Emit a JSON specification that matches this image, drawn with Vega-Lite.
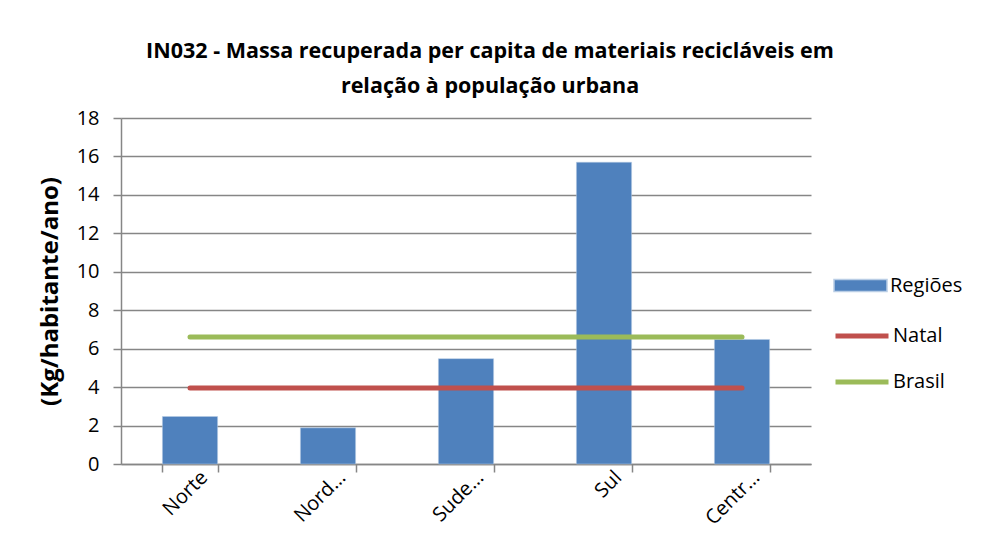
{
  "$schema": "https://vega.github.io/schema/vega-lite/v6.json",
  "width": 690,
  "height": 346,
  "autosize": {"type": "none"},
  "padding": {"left": 121, "top": 118, "right": 177, "bottom": 92},
  "background": "white",
  "config": {
    "font": "Open Sans",
    "view": {"stroke": null},
    "axis": {"labelColor": "black", "titleColor": "black"}
  },
  "title": {
    "text": ["IN032 - Massa recuperada per capita de materiais recicláveis em", "relação à população urbana"],
    "fontSize": 21.5,
    "fontWeight": "bold",
    "color": "black",
    "anchor": "middle",
    "dx": 24,
    "lineHeight": 35,
    "offset": 11
  },
  "datasets": {
    "bars": [
      {"regiao": "Norte", "valor": 2.47, "serie": "Regiões"},
      {"regiao": "Nordeste", "valor": 1.88, "serie": "Regiões"},
      {"regiao": "Sudeste", "valor": 5.48, "serie": "Regiões"},
      {"regiao": "Sul", "valor": 15.7, "serie": "Regiões"},
      {"regiao": "Centro-Oeste", "valor": 6.48, "serie": "Regiões"}
    ],
    "lines": [
      {"regiao": "Norte", "valor": 3.96, "serie": "Natal"},
      {"regiao": "Nordeste", "valor": 3.96, "serie": "Natal"},
      {"regiao": "Sudeste", "valor": 3.96, "serie": "Natal"},
      {"regiao": "Sul", "valor": 3.96, "serie": "Natal"},
      {"regiao": "Centro-Oeste", "valor": 3.96, "serie": "Natal"},
      {"regiao": "Norte", "valor": 6.61, "serie": "Brasil"},
      {"regiao": "Nordeste", "valor": 6.61, "serie": "Brasil"},
      {"regiao": "Sudeste", "valor": 6.61, "serie": "Brasil"},
      {"regiao": "Sul", "valor": 6.61, "serie": "Brasil"},
      {"regiao": "Centro-Oeste", "valor": 6.61, "serie": "Brasil"}
    ]
  },
  "encoding": {
    "x": {
      "field": "regiao",
      "type": "nominal",
      "sort": ["Norte", "Nordeste", "Sudeste", "Sul", "Centro-Oeste"],
      "scale": {"paddingInner": 0.6, "paddingOuter": 0.3},
      "axis": {
        "title": null,
        "labelAngle": -45,
        "labelFontSize": 20,
        "labelAlign": "right",
        "labelBaseline": "middle",
        "labelOffset": 14,
        "labelPadding": 2,
        "labelExpr": "datum.label == 'Nordeste' ? 'Nord…' : datum.label == 'Sudeste' ? 'Sude…' : datum.label == 'Centro-Oeste' ? 'Centr…' : datum.label",
        "tickBand": "extent",
        "tickSize": 8,
        "tickColor": "#868686",
        "tickWidth": 1.5,
        "domainColor": "#868686",
        "domainWidth": 1.5,
        "grid": false
      }
    },
    "y": {
      "field": "valor",
      "type": "quantitative",
      "scale": {"domain": [0, 18], "nice": false},
      "axis": {
        "title": "(Kg/habitante/ano)",
        "titleFontSize": 24,
        "titleFontWeight": "bold",
        "titlePadding": 14,
        "values": [0, 2, 4, 6, 8, 10, 12, 14, 16, 18],
        "labelFontSize": 20,
        "labelPadding": 14,
        "tickSize": 8,
        "tickColor": "#868686",
        "tickWidth": 1.5,
        "domainColor": "#868686",
        "domainWidth": 1.5,
        "gridColor": "#868686",
        "gridWidth": 1.5
      }
    }
  },
  "layer": [
    {
      "data": {"name": "bars"},
      "mark": {"type": "bar", "stroke": "#B9CDE5", "strokeWidth": 0.5},
      "encoding": {
        "fill": {
          "field": "serie",
          "type": "nominal",
          "scale": {"domain": ["Regiões"], "range": ["#4F81BD"]},
          "legend": {
            "title": null,
            "orient": "none",
            "legendX": 712,
            "legendY": 140,
            "symbolType": "M-1,-0.23H1V0.23H-1Z",
            "symbolSize": 2809,
            "symbolOpacity": 1,
            "labelFontSize": 20,
            "labelOffset": 2,
            "labelColor": "black"
          }
        }
      }
    },
    {
      "data": {"name": "lines"},
      "mark": {"type": "line", "strokeWidth": 5, "strokeCap": "round"},
      "encoding": {
        "stroke": {
          "field": "serie",
          "type": "nominal",
          "scale": {"domain": ["Natal", "Brasil"], "range": ["#C0504D", "#9BBB59"]},
          "legend": {
            "title": null,
            "orient": "none",
            "legendX": 712,
            "legendY": 189,
            "symbolType": "stroke",
            "symbolSize": 2809,
            "symbolStrokeWidth": 5,
            "rowPadding": 7,
            "labelFontSize": 20,
            "labelOffset": 2,
            "labelColor": "black"
          }
        }
      }
    }
  ]
}
